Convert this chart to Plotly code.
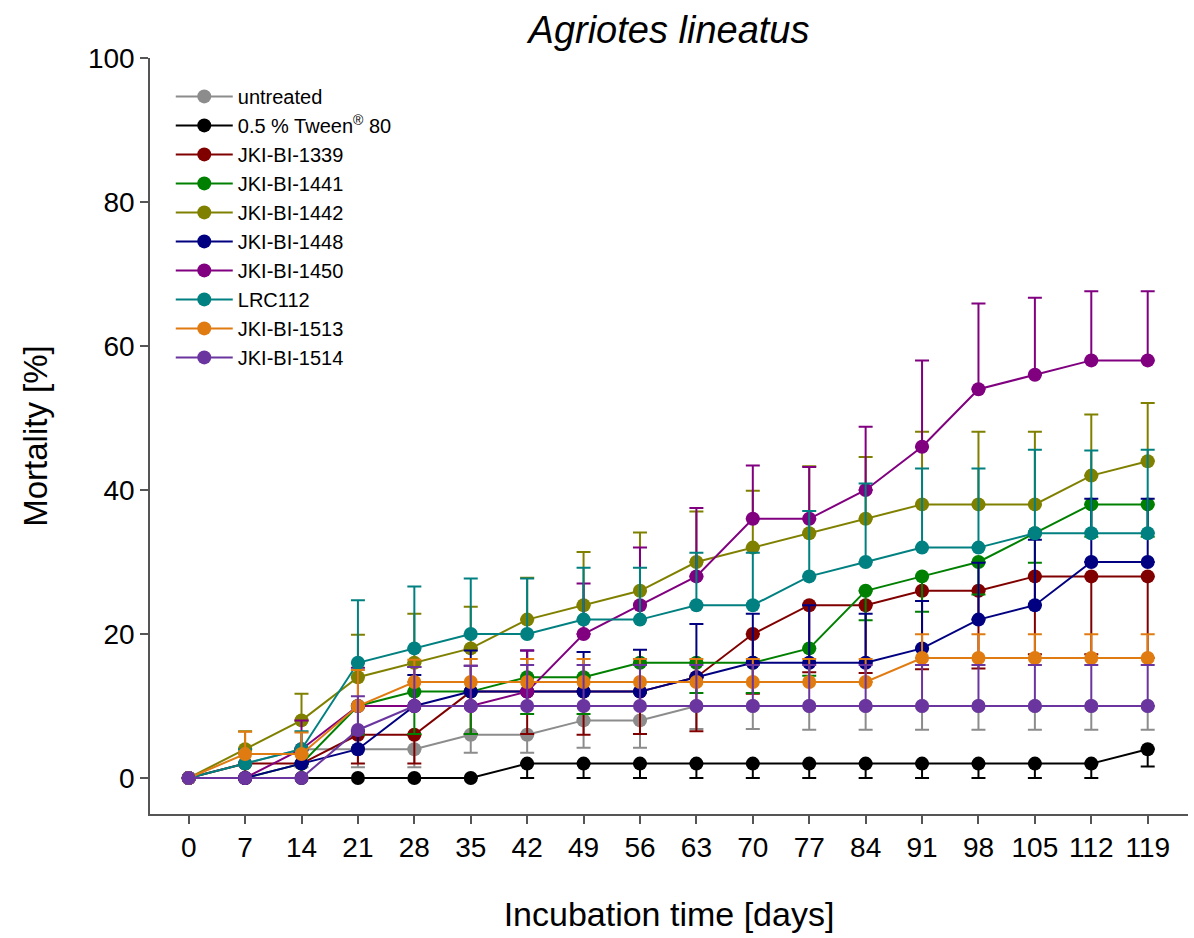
import plotly.graph_objects as go

days = [0, 7, 14, 21, 28, 35, 42, 49, 56, 63, 70, 77, 84, 91, 98, 105, 112, 119]

names = ["untreated", "0.5 % Tween<sup>®</sup> 80", "JKI-BI-1339", "JKI-BI-1441", "JKI-BI-1442",
         "JKI-BI-1448", "JKI-BI-1450", "LRC112", "JKI-BI-1513", "JKI-BI-1514"]

untreated = [0, 2, 4, 4, 4, 6, 6, 8, 8, 10, 10, 10, 10, 10, 10, 10, 10, 10]
untreated_sd = [0, 2, 2.5, 2.5, 2.5, 2.5, 2.5, 3.8, 3.8, 3.2, 3.2, 3.3, 3.3, 3.3, 3.3, 3.3, 3.3, 3.3]

tween = [0, 0, 0, 0, 0, 0, 2, 2, 2, 2, 2, 2, 2, 2, 2, 2, 2, 4]
tween_sd = [0, 0, 0, 0, 0, 0, 2, 2, 2, 2, 2, 2, 2, 2, 2, 2, 2, 2.4]

jki1339 = [0, 2, 2, 6, 6, 12, 12, 12, 12, 14, 20, 24, 24, 26, 26, 28, 28, 28]
jki1339_sd = [0, 2, 2, 4, 4, 5.9, 5.9, 6, 5.9, 7.5, 8.3, 9.3, 9.4, 10.9, 10.8, 10.8, 10.8, 11.3]

jki1441 = [0, 0, 2, 10, 12, 12, 14, 14, 16, 16, 16, 18, 26, 28, 30, 34, 38, 38]
jki1441_sd = [0, 0, 2, 4, 5.9, 5.9, 5.1, 5.1, 4.2, 4.2, 4.2, 3.8, 4.1, 4.9, 4.5, 4.1, 4.5, 4.5]

jki1442 = [0, 4, 8, 14, 16, 18, 22, 24, 26, 30, 32, 34, 36, 38, 38, 38, 42, 44]
jki1442_sd = [0, 2.5, 3.7, 5.9, 6.8, 5.8, 5.8, 7.4, 8.1, 7, 7.9, 9.3, 8.6, 10.1, 10.1, 10.1, 8.5, 8.1]

jki1448 = [0, 0, 2, 4, 10, 12, 12, 12, 12, 14, 16, 16, 16, 18, 22, 24, 30, 30]
jki1448_sd = [0, 0, 2, 2.5, 4.3, 5.7, 5.7, 5.5, 5.8, 7.4, 6.8, 8, 6.8, 6.6, 7.9, 9.1, 8.8, 8.8]

jki1450 = [0, 0, 4, 10, 10, 10, 12, 20, 24, 28, 36, 36, 40, 46, 54, 56, 58, 58]
jki1450_sd = [0, 0, 4, 5.3, 5.4, 5.6, 5.7, 7, 8, 9.5, 7.4, 7.2, 8.8, 12, 11.9, 10.7, 9.6, 9.6]

lrc112 = [0, 2, 4, 16, 18, 20, 20, 22, 22, 24, 24, 28, 30, 32, 32, 34, 34, 34]
lrc112_sd = [0, 2, 2.5, 8.7, 8.6, 7.7, 7.7, 7.2, 7.2, 7.3, 7.3, 9.1, 10.9, 11, 11, 11.6, 11.5, 11.6]

jki1513 = [0, 3.33, 3.33, 10, 13.33, 13.33, 13.33, 13.33, 13.33, 13.33, 13.33, 13.33, 13.33,
           16.67, 16.67, 16.67, 16.67, 16.67]
jki1513_sd = [0, 3.1, 3, 5, 3.1, 3.2, 3.2, 3.2, 3.2, 3.2, 3.2, 3.2, 3.2, 3.3, 3.3, 3.3, 3.3, 3.3]

jki1514 = [0, 0, 0, 6.67, 10, 10, 10, 10, 10, 10, 10, 10, 10, 10, 10, 10, 10, 10]
jki1514_sd = [0, 0, 0, 4.7, 5.4, 5.6, 5.7, 5.7, 5.7, 5.7, 5.7, 5.7, 5.7, 5.7, 5.7, 5.7, 5.7, 5.7]

series = [untreated, tween, jki1339, jki1441, jki1442, jki1448, jki1450, lrc112, jki1513, jki1514]
sds = [untreated_sd, tween_sd, jki1339_sd, jki1441_sd, jki1442_sd, jki1448_sd, jki1450_sd,
       lrc112_sd, jki1513_sd, jki1514_sd]
directions = ["down", "down", "down", "down", "up", "up", "up", "up", "up", "up"]
colors = ["#8c8c8c", "#000000", "#800000", "#008000", "#808000", "#000080", "#800080",
          "#008080", "#e07b12", "#6b35a0"]

FONT = "Liberation Sans, Arial, sans-serif"

fig = go.Figure()
for name, y, sd, d, c in zip(names, series, sds, directions, colors):
    zeros = [0] * len(sd)
    if d == "up":
        err = dict(type="data", symmetric=False, array=sd, arrayminus=zeros,
                   color=c, thickness=2, width=7)
    else:
        err = dict(type="data", symmetric=False, array=zeros, arrayminus=sd,
                   color=c, thickness=2, width=7)
    fig.add_trace(go.Scatter(
        x=days, y=y, name=name, mode="lines+markers",
        line=dict(color=c, width=2),
        marker=dict(color=c, size=14),
        error_y=err,
    ))

fig.update_layout(
    width=1194, height=938,
    margin=dict(l=150, r=6, t=58, b=124),
    paper_bgcolor="white", plot_bgcolor="white",
    font=dict(family=FONT, color="black"),
    title=dict(text="<i>Agriotes lineatus</i>", x=0.5, xref="paper", y=0.968,
               yref="container", yanchor="middle", font=dict(size=38, family=FONT)),
    showlegend=True,
    legend=dict(x=0.02, y=0.975, xanchor="left", yanchor="top",
                font=dict(size=20, family=FONT), bgcolor="rgba(0,0,0,0)",
                itemwidth=57, tracegroupgap=0),
)
fig.update_xaxes(
    range=[-4.8, 124], tickvals=days, ticktext=[str(d) for d in days],
    showline=True, linecolor="#555555", linewidth=1.5,
    ticks="outside", ticklen=8, tickcolor="#555555", tickwidth=1.5,
    showgrid=False, zeroline=False,
    tickfont=dict(size=28, family=FONT),
    title=dict(text="Incubation time [days]", font=dict(size=34, family=FONT), standoff=40),
)
fig.update_yaxes(
    range=[-5, 100], tickvals=[0, 20, 40, 60, 80, 100],
    showline=True, linecolor="#555555", linewidth=1.5,
    ticks="outside", ticklen=8, tickcolor="#555555", tickwidth=1.5,
    showgrid=False, zeroline=False,
    tickfont=dict(size=28, family=FONT),
    title=dict(text="Mortality [%]", font=dict(size=33, family=FONT), standoff=30),
)

fig.write_html("out.html")
